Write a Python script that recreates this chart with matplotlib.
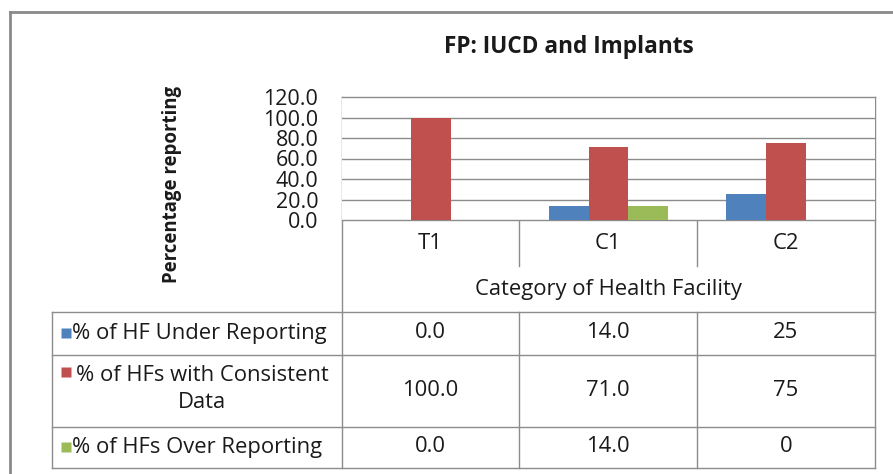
import numpy as np
import matplotlib
matplotlib.use('Agg')
import matplotlib.pyplot as plt

plt.rcParams['font.family'] = ['Open Sans', 'DejaVu Sans']

# data
categories = ['T1', 'C1', 'C2']
series_names = ['% of HF Under Reporting',
                '% of HFs with Consistent\nData',
                '% of HFs Over Reporting']
under = [0.0, 14.0, 25]
consistent = [100.0, 71.0, 75]
over = [0.0, 14.0, 0]
cell_text = [['0.0', '14.0', '25'],
             ['100.0', '71.0', '75'],
             ['0.0', '14.0', '0']]
yticks = [0, 20, 40, 60, 80, 100, 120]

colors = ['#4F81BD', '#C0504D', '#9BBB59']
grid_col = '#8C8C8C'
txt_col = '#1A1A1A'
fs = 15.8

W, H = 893, 474
fig = plt.figure(figsize=(W / 100, H / 100), dpi=100)

# overlay in pixel coords for the frame / table
ov = fig.add_axes([0, 0, 1, 1])
ov.set_xlim(0, W)
ov.set_ylim(H, 0)
ov.axis('off')

# plot area (pixels)
px0, px1, py0, py1 = 342, 875, 97, 220


def fx(x):
    return x / W


def fy(y):
    return 1 - y / H


ax = fig.add_axes([fx(px0), fy(py1), fx(px1) - fx(px0), fy(py0) - fy(py1)])
x = np.arange(len(categories))
bw = 0.225
for i, vals in enumerate([under, consistent, over]):
    ax.bar(x + (i - 1) * bw, vals, bw, color=colors[i], zorder=3)
ax.set_xlim(-0.5, 2.5)
ax.set_ylim(0, 120)
ax.set_yticks(yticks)
ax.set_yticklabels([f'{v:.1f}' for v in yticks], fontsize=15.5, color=txt_col)
ax.tick_params(axis='y', length=0, pad=17)
ax.set_xticks([])
ax.yaxis.grid(True, color=grid_col, lw=1, zorder=0)
for s in ax.spines.values():
    s.set_visible(False)

# outer frame
ov.plot([10, 10], [12, H], color='#8A8A8A', lw=2)
ov.plot([10, W], [12, 12], color='#8A8A8A', lw=2)

# title and axis title
ov.text(569, 47, 'FP: IUCD and Implants', ha='center', va='center',
        fontsize=16.3, fontweight='bold', color=txt_col)
ov.text(172, 184, 'Percentage reporting', ha='center', va='center',
        rotation=90, fontsize=13.4, fontweight='bold', color=txt_col)

# table lines
lc = '#8C8C8C'
ov.plot([px0, px1], [py0, py0], color=lc, lw=1)
ov.plot([px0, px1], [py1, py1], color=lc, lw=1)
for xx in [px0, px1]:
    ov.plot([xx, xx], [py0, 468], color=lc, lw=1)
col_edges = [342, 519, 697, 875]
for xx in col_edges[1:3]:
    ov.plot([xx, xx], [py1, 266], color=lc, lw=1)
    ov.plot([xx, xx], [312, 468], color=lc, lw=1)
ov.plot([52, 52], [312, 468], color=lc, lw=1)
row_edges = [312, 355, 427, 468]
for yy in row_edges:
    ov.plot([52, px1], [yy, yy], color=lc, lw=1)

centers = [(col_edges[i] + col_edges[i + 1]) / 2 for i in range(3)]
for c, lab in zip(centers, categories):
    ov.text(c, 243, lab, ha='center', va='center', fontsize=fs, color=txt_col)
ov.text(608, 290, 'Category of Health Facility', ha='center', va='center',
        fontsize=fs, color=txt_col)

# legend column + values
row_y = [333, 372, 447]
val_y = [333, 391, 447]
for r in range(3):
    ov.plot([66], [row_y[r]], marker='s', ms=6.5, color=colors[r], mec='none')
    if '\n' in series_names[r]:
        ov.text(202, 389, series_names[r], ha='center', va='center',
                multialignment='center', fontsize=fs, color=txt_col,
                linespacing=1.4)
    else:
        ov.text(72, row_y[r], series_names[r], ha='left', va='center',
                fontsize=fs, color=txt_col)
    for c, t in zip(centers, cell_text[r]):
        ov.text(c, val_y[r], t, ha='center', va='center', fontsize=fs,
                color=txt_col)

fig.savefig('out.png', dpi=100)
